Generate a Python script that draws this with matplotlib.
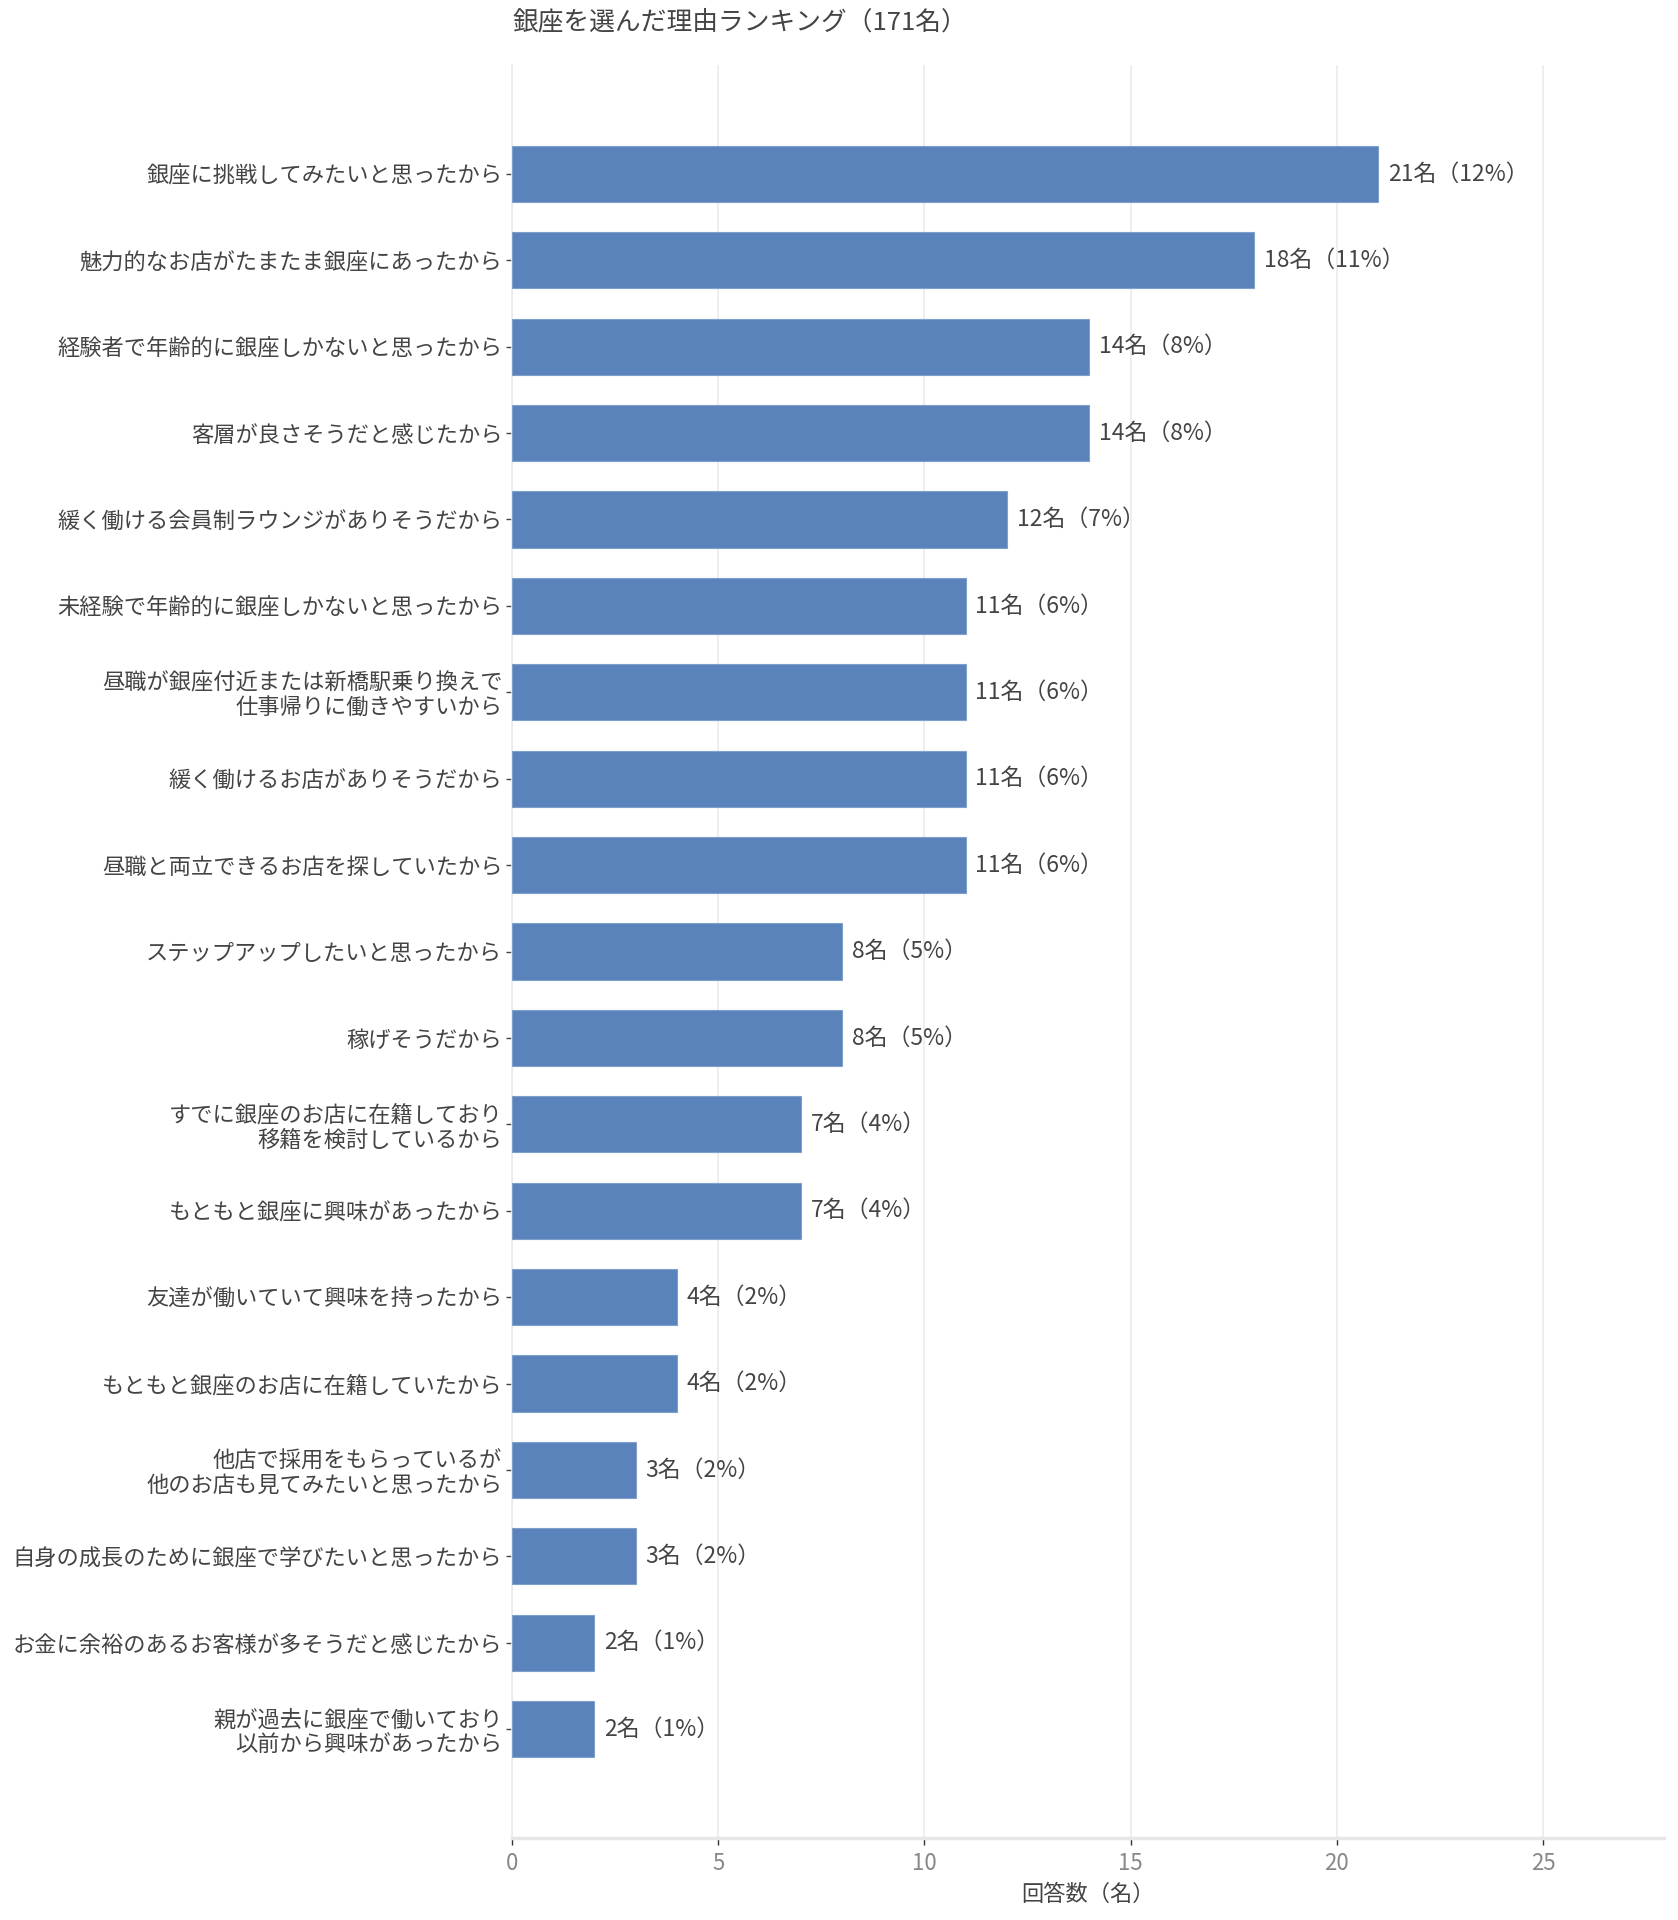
import matplotlib
matplotlib.use("Agg")
import matplotlib.pyplot as plt

plt.rcParams['font.family'] = ['Noto Sans CJK JP', 'DejaVu Sans']

categories = [
    "銀座に挑戦してみたいと思ったから",
    "魅力的なお店がたまたま銀座にあったから",
    "経験者で年齢的に銀座しかないと思ったから",
    "客層が良さそうだと感じたから",
    "緩く働ける会員制ラウンジがありそうだから",
    "未経験で年齢的に銀座しかないと思ったから",
    "昼職が銀座付近または新橋駅乗り換えで\n仕事帰りに働きやすいから",
    "緩く働けるお店がありそうだから",
    "昼職と両立できるお店を探していたから",
    "ステップアップしたいと思ったから",
    "稼げそうだから",
    "すでに銀座のお店に在籍しており\n移籍を検討しているから",
    "もともと銀座に興味があったから",
    "友達が働いていて興味を持ったから",
    "もともと銀座のお店に在籍していたから",
    "他店で採用をもらっているが\n他のお店も見てみたいと思ったから",
    "自身の成長のために銀座で学びたいと思ったから",
    "お金に余裕のあるお客様が多そうだと感じたから",
    "親が過去に銀座で働いており\n以前から興味があったから",
]
counts = [21, 18, 14, 14, 12, 11, 11, 11, 11, 8, 8, 7, 7, 4, 4, 3, 3, 2, 2]
percents = [12, 11, 8, 8, 7, 6, 6, 6, 6, 5, 5, 4, 4, 2, 2, 2, 2, 1, 1]
xticks = [0, 5, 10, 15, 20, 25]
title = "銀座を選んだ理由ランキング（171名）"
xlabel = "回答数（名）"

text_color = "#444444"
bar_color = "#5B83BB"

fig = plt.figure(figsize=(16.78, 19.2), dpi=100)
ax = fig.add_axes([512/1678, 1 - 1838/1920, (1664-512)/1678, (1838-65)/1920])

ypos = list(range(len(categories)))
ax.barh(ypos, counts, height=0.65, color=bar_color, edgecolor="#7fa0cc", linewidth=0.8, zorder=3)

for y, c, p in zip(ypos, counts, percents):
    ax.annotate(f"{c}名（{p}%）", xy=(c, y), xytext=(7, 0), textcoords="offset points",
                ha="left", va="center", fontsize=16.5, color=text_color)

ax.set_xlim(0, 27.93)
ax.set_ylim(len(categories) - 1 + 1.26, -1.26)
ax.set_yticks(ypos)
ax.set_yticklabels(categories, fontsize=16, color=text_color, ha="right", multialignment="right", linespacing=1.1)
ax.set_xticks(xticks)
ax.set_xticklabels([str(t) for t in xticks], fontsize=16, color="#888888")

ax.tick_params(axis="y", length=4, width=1, color="#444444", pad=3)
ax.tick_params(axis="x", length=5, width=1, color="#333333", pad=5)

ax.grid(axis="x", color="#ebebeb", linewidth=1.2, zorder=0)
ax.set_axisbelow(True)
for s in ["top", "right"]:
    ax.spines[s].set_visible(False)
ax.spines["left"].set_color("#ebebeb")
ax.spines["left"].set_linewidth(1.2)
ax.spines["bottom"].set_color("#e6e6e6")
ax.spines["bottom"].set_linewidth(2.5)

ax.set_xlabel(xlabel, fontsize=16, color=text_color, labelpad=6)
fig.text(512/1678, 1 - 22/1920, title, fontsize=18.5, color=text_color, ha="left", va="center")

fig.savefig("out.png", dpi=100, facecolor="white")
